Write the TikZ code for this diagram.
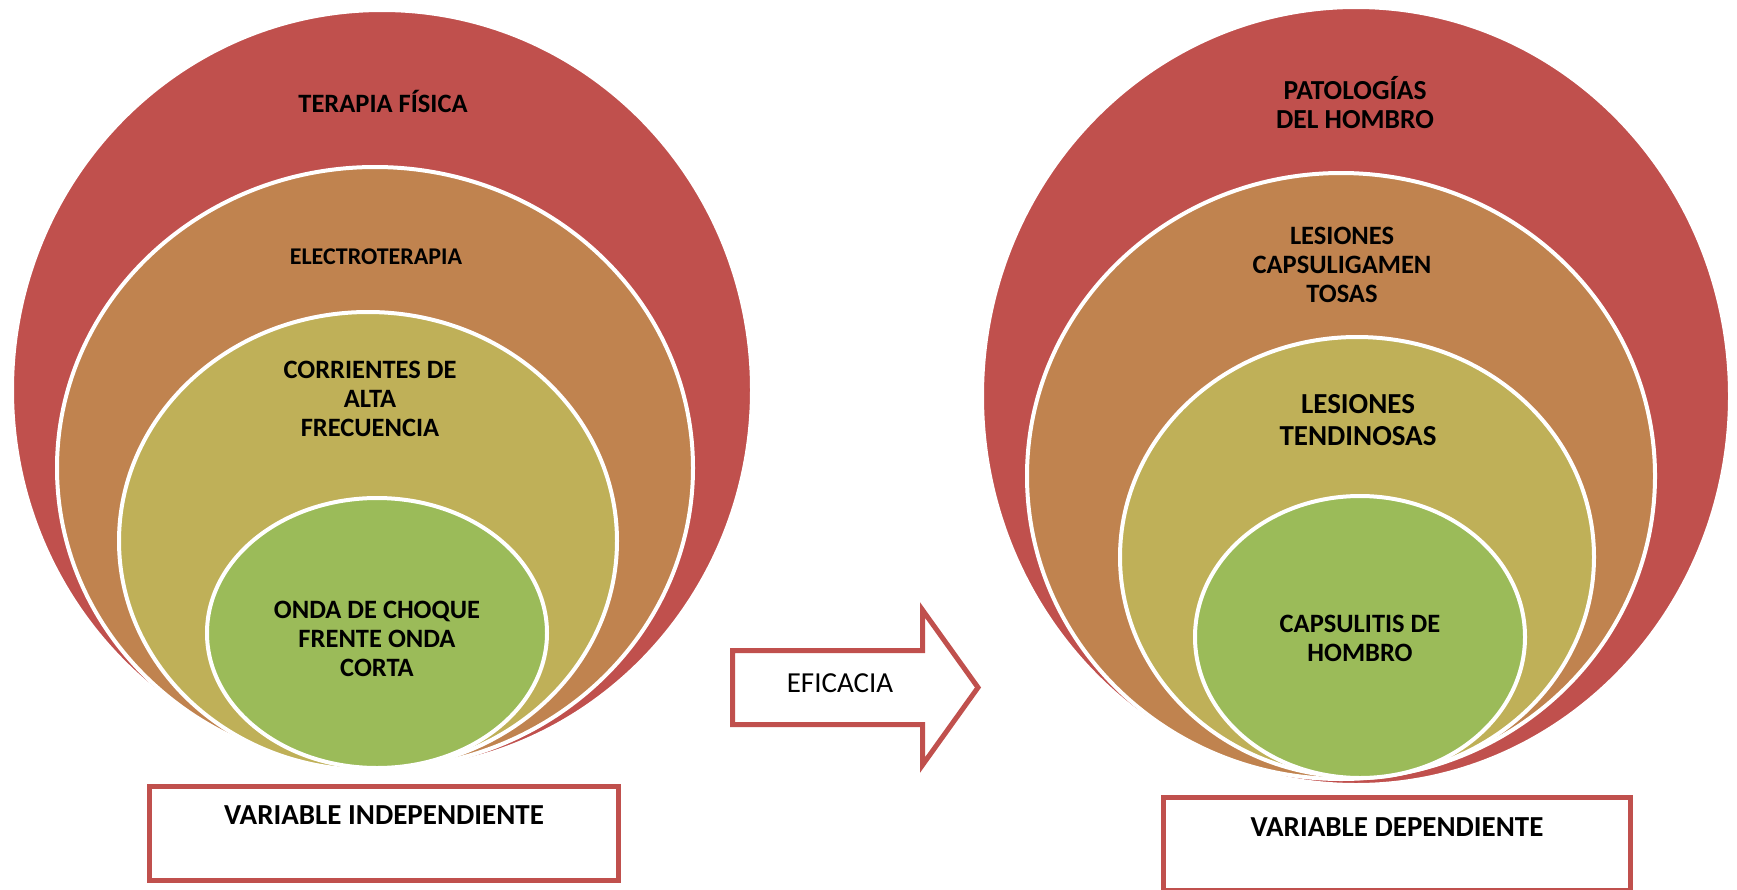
\documentclass[tikz,border=0pt]{standalone}
\usepackage{fontspec}
\setmainfont{Carlito}
\usetikzlibrary{shapes.geometric}

\definecolor{rojo}{HTML}{C0504D}
\definecolor{naranja}{HTML}{C0834F}
\definecolor{oliva}{HTML}{BFB058}
\definecolor{verde}{HTML}{9BBB59}

\tikzset{capa/.style={ellipse, draw=white, line width=4pt, inner sep=0pt},
	etiqueta/.style={align=center, inner sep=0pt, font=\bfseries\fontsize{26.5}{29}\selectfont},
	caja/.style={rectangle, draw=rojo, line width=5pt, fill=white, inner sep=0pt}}

\begin{document}
\begin{tikzpicture}[x=1pt, y=-1pt]
			\useasboundingbox (0,0) rectangle (1737,889);
			
			% Left ellipses (independent variable)
			\node[capa, fill=rojo, minimum width=740pt, minimum height=760pt] (T1) at (382,390) {};
			\node[capa, fill=naranja, minimum width=636pt, minimum height=602pt] (T2) at (375,468) {};
			\node[capa, fill=oliva, minimum width=498pt, minimum height=458pt] (T3) at (368,541) {};
			\node[capa, fill=verde, minimum width=340pt, minimum height=270pt] (T4) at (377,633) {};
			
			\node[etiqueta] (t1) at (383,101) {TERAPIA FÍSICA};
			\node[etiqueta, font=\bfseries\fontsize{24}{27}\selectfont] (t2) at (376,257) {ELECTROTERAPIA};
			\node[etiqueta] (t3) at (370,399) {CORRIENTES DE\\ALTA\\FRECUENCIA};
			\node[etiqueta] (t4) at (377,639) {ONDA DE CHOQUE\\FRENTE ONDA\\CORTA};
			
			% Right ellipses (dependent variable)
			\node[capa, fill=rojo, minimum width=748pt, minimum height=778pt] (P1) at (1356,396) {};
			\node[capa, fill=naranja, minimum width=628pt, minimum height=606pt] (P2) at (1341,476) {};
			\node[capa, fill=oliva, minimum width=474pt, minimum height=440pt] (P3) at (1357,557) {};
			\node[capa, fill=verde, minimum width=330pt, minimum height=282pt] (P4) at (1360,637) {};
			
			\node[etiqueta, font=\bfseries\fontsize{27.5}{29}\selectfont] (p1) at (1355,103) {PATOLOGÍAS\\DEL HOMBRO};
			\node[etiqueta] (p2) at (1342,265) {LESIONES\\CAPSULIGAMEN\\TOSAS};
			\node[etiqueta, font=\bfseries\fontsize{29}{32}\selectfont] (p3) at (1358,420) {LESIONES\\TENDINOSAS};
			\node[etiqueta] (p4) at (1360,638) {CAPSULITIS DE\\HOMBRO};
			
			% Arrow between both
			\draw[rojo, line width=5pt, fill=white] (732.5,650.5) -- (922.5,650.5) -- (922.5,610)
				-- (978,687.5) -- (922.5,765) -- (922.5,724.5) -- (732.5,724.5) -- cycle;
			\node[inner sep=0pt, font=\fontsize{29}{32}\selectfont] (ef) at (840,683) {EFICACIA};
			
			% Boxes
			\node[caja, minimum width=469pt, minimum height=94pt] (VI) at (384,833.5) {};
			\node[etiqueta, font=\bfseries\fontsize{29}{32}\selectfont] (vi) at ([yshift=-31.5pt]VI.north) {VARIABLE INDEPENDIENTE};
			\node[caja, minimum width=467pt, minimum height=93pt] (VD) at (1397,844) {};
			\node[etiqueta, font=\bfseries\fontsize{29}{32}\selectfont] (vd) at ([yshift=-32.5pt]VD.north) {VARIABLE DEPENDIENTE};
		\end{tikzpicture}
\end{document}
